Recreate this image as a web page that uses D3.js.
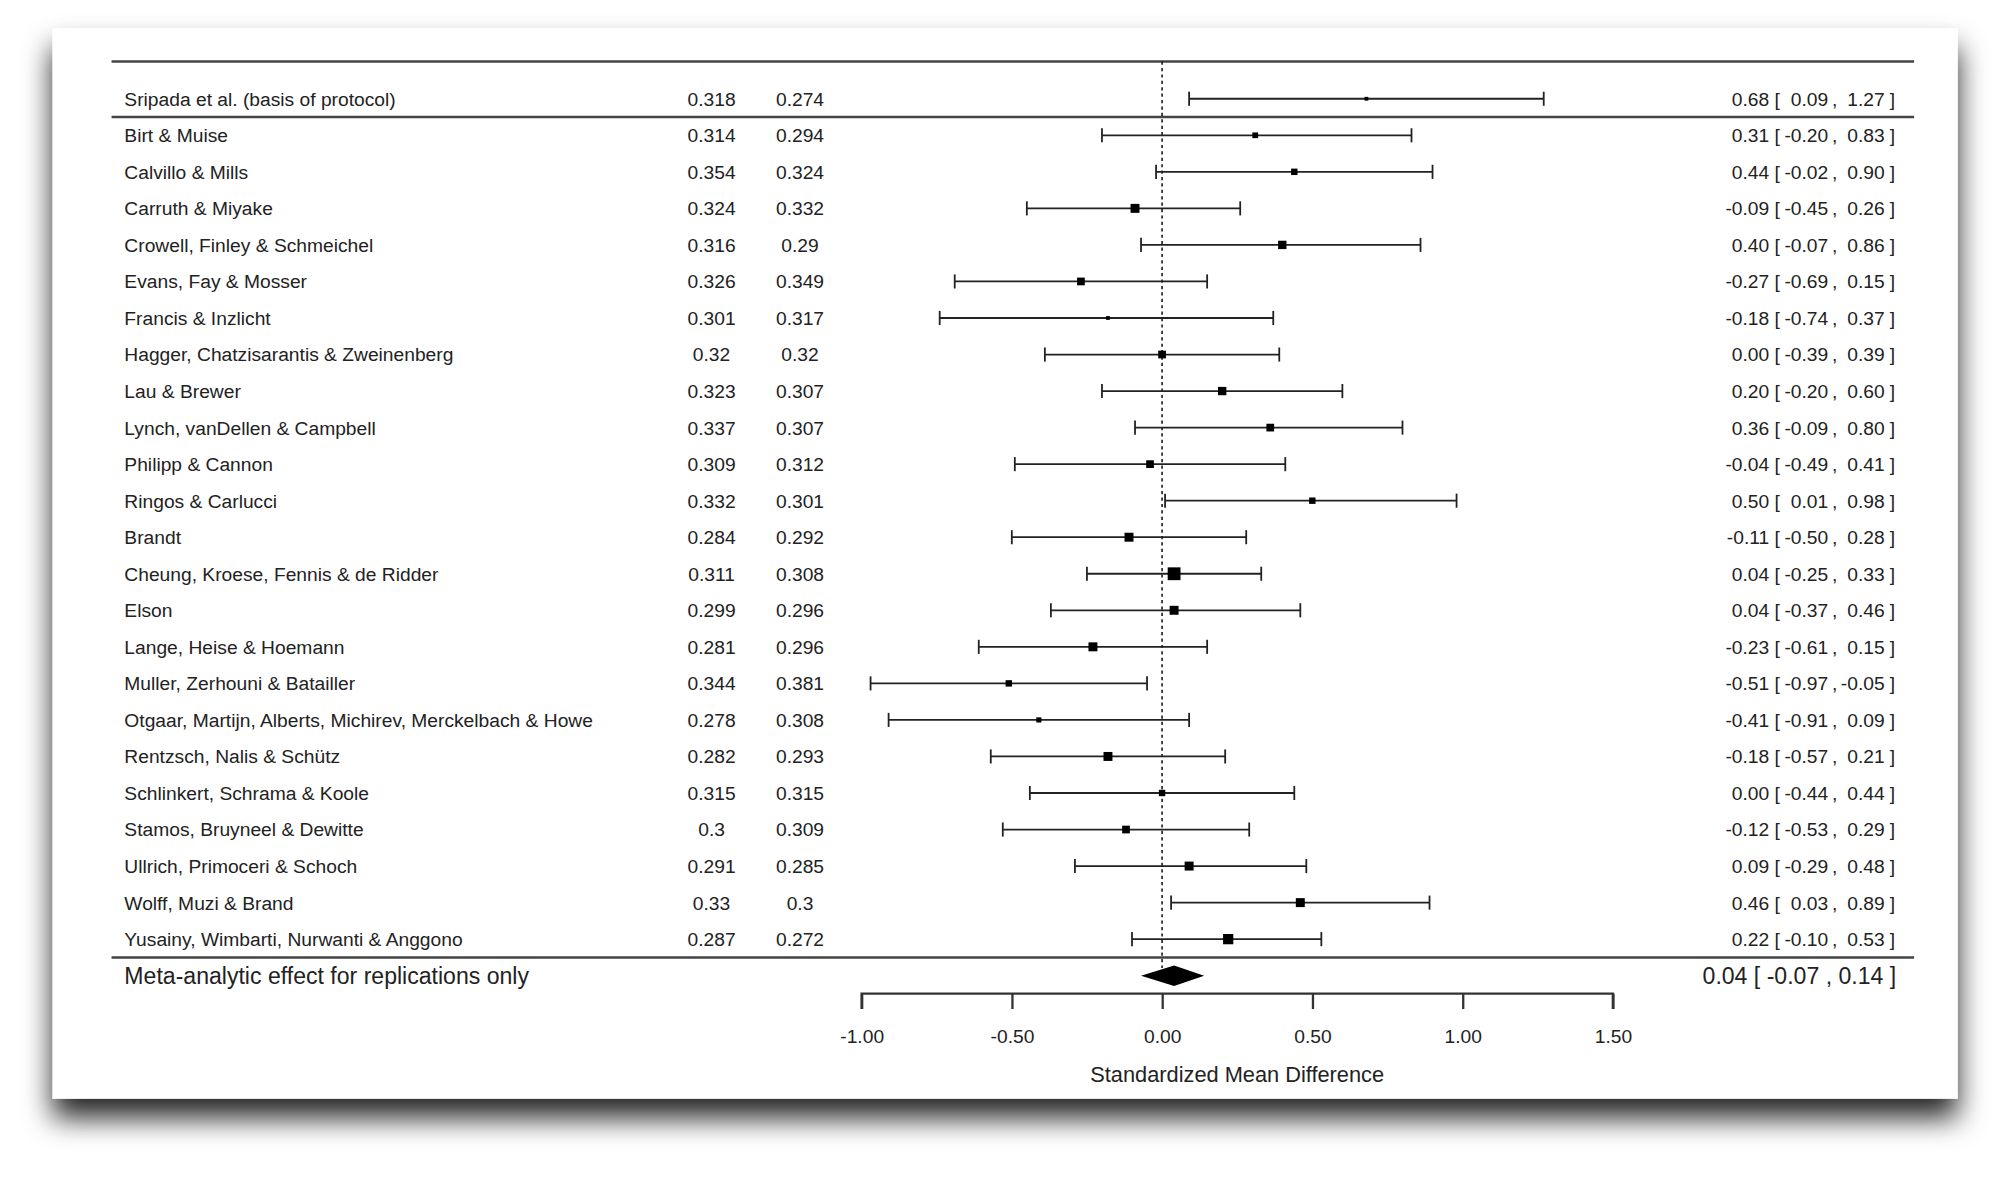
<!DOCTYPE html>
<html>
<head>
<meta charset="utf-8">
<script src="https://cdn.jsdelivr.net/npm/d3@7"></script>
<style>
  html, body { margin: 0; padding: 0; background: #fff; }
  svg { display: block; }
  text { font-family: "Liberation Sans", Arial, sans-serif; fill: #222; }
</style>
</head>
<body>
<script>
// study rows (first row is the original study)
var studies = [
  "Sripada et al. (basis of protocol)",
  "Birt & Muise",
  "Calvillo & Mills",
  "Carruth & Miyake",
  "Crowell, Finley & Schmeichel",
  "Evans, Fay & Mosser",
  "Francis & Inzlicht",
  "Hagger, Chatzisarantis & Zweinenberg",
  "Lau & Brewer",
  "Lynch, vanDellen & Campbell",
  "Philipp & Cannon",
  "Ringos & Carlucci",
  "Brandt",
  "Cheung, Kroese, Fennis & de Ridder",
  "Elson",
  "Lange, Heise & Hoemann",
  "Muller, Zerhouni & Batailler",
  "Otgaar, Martijn, Alberts, Michirev, Merckelbach & Howe",
  "Rentzsch, Nalis & Schütz",
  "Schlinkert, Schrama & Koole",
  "Stamos, Bruyneel & Dewitte",
  "Ullrich, Primoceri & Schoch",
  "Wolff, Muzi & Brand",
  "Yusainy, Wimbarti, Nurwanti & Anggono"
];
var col1 = [0.318, 0.314, 0.354, 0.324, 0.316, 0.326, 0.301, 0.32, 0.323, 0.337, 0.309, 0.332,
            0.284, 0.311, 0.299, 0.281, 0.344, 0.278, 0.282, 0.315, 0.3, 0.291, 0.33, 0.287];
var col2 = [0.274, 0.294, 0.324, 0.332, 0.29, 0.349, 0.317, 0.32, 0.307, 0.307, 0.312, 0.301,
            0.292, 0.308, 0.296, 0.296, 0.381, 0.308, 0.293, 0.315, 0.309, 0.285, 0.3, 0.272];
var est = [0.68, 0.31, 0.44, -0.09, 0.40, -0.27, -0.18, 0.00, 0.20, 0.36, -0.04, 0.50,
           -0.11, 0.04, 0.04, -0.23, -0.51, -0.41, -0.18, 0.00, -0.12, 0.09, 0.46, 0.22];
var lo = [0.09, -0.20, -0.02, -0.45, -0.07, -0.69, -0.74, -0.39, -0.20, -0.09, -0.49, 0.01,
          -0.50, -0.25, -0.37, -0.61, -0.97, -0.91, -0.57, -0.44, -0.53, -0.29, 0.03, -0.10];
var hi = [1.27, 0.83, 0.90, 0.26, 0.86, 0.15, 0.37, 0.39, 0.60, 0.80, 0.41, 0.98,
          0.28, 0.33, 0.46, 0.15, -0.05, 0.09, 0.21, 0.44, 0.29, 0.48, 0.89, 0.53];
// approximate weights
var weights = [0.7, 1.6, 2.0, 3.9, 3.4, 2.9, 0.7, 2.9, 3.4, 2.9, 2.9, 2.0,
               3.9, 8.0, 3.9, 3.9, 2.0, 1.3, 3.9, 2.0, 2.9, 3.9, 3.9, 5.1];
var metaLabel = "Meta-analytic effect for replications only";
var metaEst = 0.04, metaLo = -0.07, metaHi = 0.14;
var xTicks = [-1.0, -0.5, 0.0, 0.5, 1.0, 1.5];
var xTitle = "Standardized Mean Difference";

var W = 1567, H = 918;
var svg = d3.select("body").append("svg")
    .attr("width", 2009).attr("height", 1177)
    .attr("viewBox", "0 0 " + W + " " + H);

// card shadow
var defs = svg.append("defs");
var f = defs.append("filter").attr("id", "shadow")
    .attr("x", "-5%").attr("y", "-5%").attr("width", "110%").attr("height", "115%");
f.append("feDropShadow").attr("dx", 0).attr("dy", 15).attr("stdDeviation", 11)
    .attr("flood-color", "#000").attr("flood-opacity", 0.85);

svg.append("rect").attr("x", 41).attr("y", 22).attr("width", 1486).attr("height", 835)
    .attr("fill", "#fff").attr("filter", "url(#shadow)");

var x = d3.scaleLinear().domain([-1, 1.5]).range([672, 1258]);
var y = d3.scaleLinear().domain([0, 24]).range([77, 761]);
var size = d3.scaleSqrt().domain([0, 8]).range([0, 10]);
// plain hyphen for negatives, like the original
var fmt = function(v) { return d3.format(".2f")(v).replace("\u2212", "-"); };

var g = svg.append("g");

// horizontal rules
[ -1, 0.5, 23.5 ].forEach(function(r) {
  g.append("line")
    .attr("x1", 87).attr("x2", 1493)
    .attr("y1", r == -1 ? 48 : y(r)).attr("y2", r == -1 ? 48 : y(r))
    .attr("stroke", "#444").attr("stroke-width", 2);
});

// reference line at zero
g.append("line")
  .attr("x1", x(0)).attr("x2", x(0))
  .attr("y1", 48).attr("y2", y(24) - 6)
  .attr("stroke", "#111").attr("stroke-width", 1.2)
  .attr("stroke-dasharray", "2.5,2.5");

var rows = studies.map(function(d, i) {
  return { name: d, c1: col1[i], c2: col2[i], est: est[i], lo: lo[i], hi: hi[i], w: weights[i], i: i };
});

var row = g.selectAll(".row").data(rows).enter().append("g")
  .attr("class", "row")
  .attr("transform", function(d) { return "translate(0," + y(d.i) + ")"; });

row.append("text").attr("x", 97).attr("dy", "0.36em")
  .style("font-size", "15px").text(function(d) { return d.name; });
row.append("text").attr("x", 555).attr("dy", "0.36em").attr("text-anchor", "middle")
  .style("font-size", "15px").text(function(d) { return String(d.c1); });
row.append("text").attr("x", 624).attr("dy", "0.36em").attr("text-anchor", "middle")
  .style("font-size", "15px").text(function(d) { return String(d.c2); });

// confidence intervals
row.append("line")
  .attr("x1", function(d) { return x(d.lo); }).attr("x2", function(d) { return x(d.hi); })
  .attr("stroke", "#222").attr("stroke-width", 1.4);
row.append("line")
  .attr("x1", function(d) { return x(d.lo); }).attr("x2", function(d) { return x(d.lo); })
  .attr("y1", -5.5).attr("y2", 5.5).attr("stroke", "#222").attr("stroke-width", 1.4);
row.append("line")
  .attr("x1", function(d) { return x(d.hi); }).attr("x2", function(d) { return x(d.hi); })
  .attr("y1", -5.5).attr("y2", 5.5).attr("stroke", "#222").attr("stroke-width", 1.4);
row.append("rect")
  .attr("x", function(d) { return x(d.est) - size(d.w) / 2; })
  .attr("y", function(d) { return -size(d.w) / 2; })
  .attr("width", function(d) { return size(d.w); })
  .attr("height", function(d) { return size(d.w); })
  .attr("fill", "#000");

// right-hand estimate text, pieces aligned like the original
var ciCols = { est: 1380, open: 1384, lo: 1426, comma: 1429, hi: 1470, close: 1474 };
row.each(function(d) {
  var s = d3.select(this);
  function piece(xp, anchor, t) {
    s.append("text").attr("x", xp).attr("text-anchor", anchor).attr("dy", "0.36em")
      .style("font-size", "15px").text(t);
  }
  piece(ciCols.est, "end", fmt(d.est));
  piece(ciCols.open, "start", "[");
  piece(ciCols.lo, "end", fmt(d.lo));
  piece(ciCols.comma, "start", ",");
  piece(ciCols.hi, "end", fmt(d.hi));
  piece(ciCols.close, "start", "]");
});

// summary row
var meta = g.append("g").attr("transform", "translate(0," + y(24) + ")");
meta.append("text").attr("x", 97).attr("dy", "0.36em")
  .style("font-size", "18px").text(metaLabel);
meta.append("path")
  .attr("d", "M" + x(metaLo) + ",0L" + x(metaEst) + ",-8L" + x(metaHi) + ",0L" + x(metaEst) + ",8Z")
  .attr("fill", "#000");
meta.append("text").attr("x", 1479).attr("text-anchor", "end").attr("dy", "0.36em")
  .style("font-size", "18px").style("white-space", "pre")
  .text(fmt(metaEst) + " [ " + fmt(metaLo) + " , " + fmt(metaHi) + " ]");

// x axis
var axisY = 775;
var axis = g.append("g").attr("transform", "translate(0," + axisY + ")")
  .call(d3.axisBottom(x).tickValues(xTicks).tickFormat(fmt).tickSize(12).tickPadding(16));
axis.select(".domain").attr("stroke", "#333").attr("stroke-width", 1.8)
  .attr("d", "M" + x(-1) + ",12V0H" + x(1.5) + "V12");
axis.selectAll(".tick line").attr("stroke", "#333").attr("stroke-width", 1.8);
axis.selectAll(".tick text").style("font-size", "15px").attr("fill", "#222")
  .style("font-family", "'Liberation Sans', Arial, sans-serif");

g.append("text").attr("x", x(0.25)).attr("y", 838).attr("dy", "0.36em")
  .attr("text-anchor", "middle").style("font-size", "17px").text(xTitle);
</script>
</body>
</html>
